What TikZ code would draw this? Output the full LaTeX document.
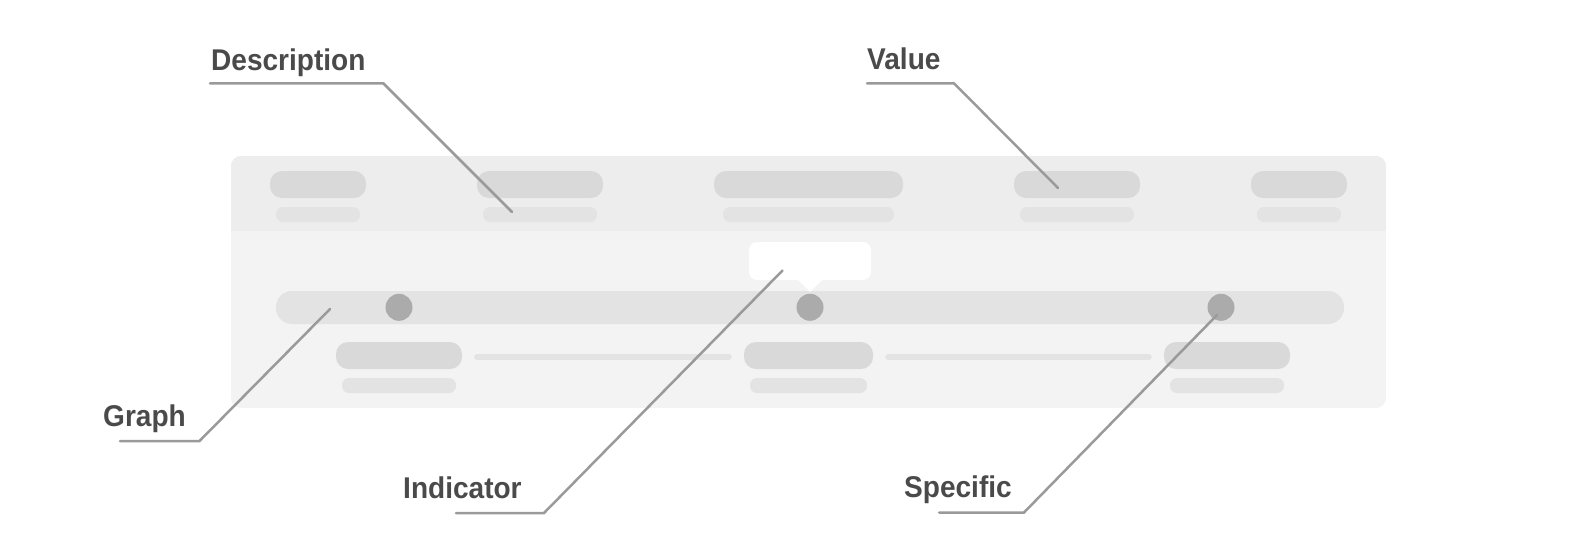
\documentclass[tikz,border=0pt]{standalone}
\usepackage{fontspec}
\setmainfont{Liberation Sans}
\definecolor{cardhead}{HTML}{EDEDED}
\definecolor{cardbody}{HTML}{F3F3F3}
\definecolor{pilldark}{HTML}{D9D9D9}
\definecolor{pilllight}{HTML}{E3E3E3}
\definecolor{dotgray}{HTML}{ABABAB}
\definecolor{leadgray}{HTML}{9A9A9A}
\definecolor{labeltext}{HTML}{4A4A4A}
\tikzset{
  pillbig/.style={fill=pilldark, rounded corners=12pt, minimum height=27pt, inner sep=0pt, draw=none},
  pillsmall/.style={fill=pilllight, rounded corners=7pt, minimum height=15pt, inner sep=0pt, draw=none},
  bar/.style={fill=pilllight, rounded corners=16pt, minimum height=33pt, inner sep=0pt},
  dotmark/.style={circle, fill=dotgray, minimum size=27pt, inner sep=0pt},
  lbl/.style={anchor=base west, inner sep=0pt, font=\fontsize{30}{36}\selectfont\bfseries, text=labeltext},
  leader/.style={draw=leadgray, line width=2.5pt, line cap=round, line join=miter},
  track/.style={draw=pilllight, line width=6pt, line cap=round}
}
\newcommand{\sq}[1]{\scalebox{0.935}[1]{#1}}
\begin{document}
\begin{tikzpicture}[x=1pt,y=-1pt]
\useasboundingbox (0,0) rectangle (1575,555);
% card
\begin{scope}
  \clip[rounded corners=10pt] (231,156) rectangle (1386,408);
  \fill[cardbody] (231,156) rectangle (1386,408);
  \fill[cardhead] (231,156) rectangle (1386,231);
\end{scope}
% header pills
\node[pillbig, minimum width=96pt] (h1) at (318,184.5) {};
\node[pillsmall, minimum width=84pt] (s1) at (318,214.5) {};
\node[pillbig, minimum width=126pt] (h2) at (540,184.5) {};
\node[pillsmall, minimum width=114pt] (s2) at (540,214.5) {};
\node[pillbig, minimum width=189pt] (h3) at (808.5,184.5) {};
\node[pillsmall, minimum width=171pt] (s3) at (808.5,214.5) {};
\node[pillbig, minimum width=126pt] (h4) at (1077,184.5) {};
\node[pillsmall, minimum width=114pt] (s4) at (1077,214.5) {};
\node[pillbig, minimum width=96pt] (h5) at (1299,184.5) {};
\node[pillsmall, minimum width=84pt] (s5) at (1299,214.5) {};
% graph bar
\node[bar, minimum width=1068pt] (graphbar) at (810,307.5) {};
% tooltip
\fill[white, rounded corners=8pt] (749,242) rectangle (871,280);
\fill[white] (797,279) -- (823,279) -- (810,292) -- cycle;
% dots
\node[dotmark] (d1) at (399,307.3) {};
\node[dotmark] (d2) at (810,307.3) {};
\node[dotmark] (d3) at (1221,307.3) {};
% bottom pills
\node[pillbig, minimum width=126pt] (b1) at (399,355.5) {};
\node[pillsmall, minimum width=114pt] (t1) at (399,385.5) {};
\node[pillbig, minimum width=129pt] (b2) at (808.5,355.5) {};
\node[pillsmall, minimum width=117pt] (t2) at (808.5,385.5) {};
\node[pillbig, minimum width=126pt] (b3) at (1227,355.5) {};
\node[pillsmall, minimum width=114pt] (t3) at (1227,385.5) {};
\draw[track] (b1.east) ++(15,1.5) coordinate (tra) (b2.west) ++(-15,1.5) coordinate (trb);
\draw[track] (tra) -- (trb);
\draw[track] (b2.east) ++(15,1.5) coordinate (trc) (b3.west) ++(-15,1.5) coordinate (trd);
\draw[track] (trc) -- (trd);
% labels
\node[lbl] (ldesc) at (211,70) {\sq{Description}};
\node[lbl] (lval) at (867,69) {\sq{Value}};
\node[lbl] (lgraph) at (103,426) {\sq{Graph}};
\node[lbl] (lind) at (403,498) {\sq{Indicator}};
\node[lbl] (lspec) at (904,497) {\sq{Specific}};
% leader coordinates
\coordinate (descA) at (210,83.3);
\coordinate (descB) at (383.3,83.3);
\coordinate (descC) at (512,212);
\coordinate (valA) at (867,83.3);
\coordinate (valB) at (954,83.3);
\coordinate (valC) at (1058,188);
\coordinate (graA) at (120,441);
\coordinate (graB) at (199.5,441);
\coordinate (graC) at (330,309);
\coordinate (indA) at (456,513);
\coordinate (indB) at (544,513);
\coordinate (indC) at (782.5,270.5);
\coordinate (speA) at (939,512.5);
\coordinate (speB) at (1024,512.5);
\coordinate (speC) at (1217,315);
\draw[leader] (descA) -- (descB) -- (descC);
\draw[leader] (valA) -- (valB) -- (valC);
\draw[leader] (graA) -- (graB) -- (graC);
\draw[leader] (indA) -- (indB) -- (indC);
\draw[leader] (speA) -- (speB) -- (speC);
\end{tikzpicture}
\end{document}
